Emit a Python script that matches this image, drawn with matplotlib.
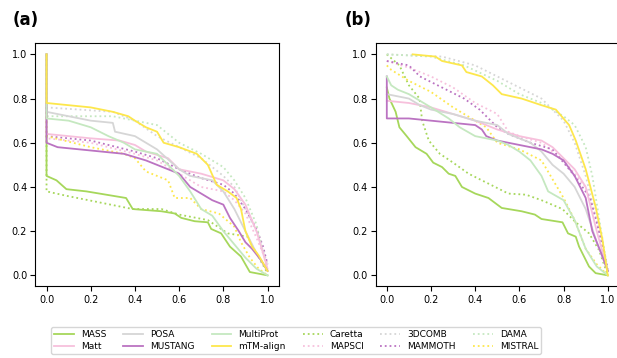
import matplotlib
matplotlib.use("Agg")
import matplotlib.pyplot as plt
from matplotlib.lines import Line2D

# ---------------- data (x = fraction, y = score) ----------------
methods = ["MASS", "Matt", "POSA", "MUSTANG", "MultiProt", "mTM-align",
           "Caretta", "MAPSCl", "3DCOMB", "MAMMOTH", "DAMA", "MlSTRAL"]
colors = ["#a6d75b", "#f7c0dc", "#d6d6d6", "#bb73c2", "#c5e8c0", "#fde74c",
          "#a6d75b", "#f7c0dc", "#d6d6d6", "#bb73c2", "#c5e8c0", "#fde74c"]
styles = ["-", "-", "-", "-", "-", "-", ":", ":", ":", ":", ":", ":"]

# panel (a)
a_mass = [(0, 1.0), (0, 0.45), (0.045, 0.43), (0.09, 0.39), (0.18, 0.38), (0.27, 0.365),
          (0.36, 0.35), (0.39, 0.30), (0.52, 0.29), (0.58, 0.28), (0.61, 0.26), (0.67, 0.245),
          (0.73, 0.24), (0.745, 0.21), (0.79, 0.19), (0.83, 0.13), (0.88, 0.085),
          (0.92, 0.015), (1.0, 0.0)]
a_matt = [(0, 1.0), (0, 0.64), (0.2, 0.62), (0.33, 0.61), (0.4, 0.59), (0.45, 0.56),
          (0.55, 0.53), (0.6, 0.48), (0.7, 0.46), (0.8, 0.43), (0.85, 0.39), (0.9, 0.32),
          (0.95, 0.2), (0.98, 0.1), (1.0, 0.03)]
a_posa = [(0, 1.0), (0, 0.74), (0.1, 0.72), (0.2, 0.70), (0.3, 0.69), (0.31, 0.65),
          (0.4, 0.63), (0.45, 0.60), (0.5, 0.57), (0.6, 0.48), (0.65, 0.45), (0.75, 0.43),
          (0.8, 0.38), (0.85, 0.30), (0.9, 0.20), (0.95, 0.10), (1.0, 0.02)]
a_mustang = [(0, 1.0), (0, 0.60), (0.05, 0.58), (0.15, 0.57), (0.25, 0.56), (0.35, 0.55),
             (0.45, 0.52), (0.55, 0.48), (0.6, 0.46), (0.65, 0.40), (0.7, 0.37), (0.75, 0.34),
             (0.8, 0.32), (0.83, 0.26), (0.87, 0.20), (0.9, 0.15), (0.93, 0.12),
             (0.97, 0.07), (1.0, 0.02)]
a_multiprot = [(0, 1.0), (0, 0.71), (0.1, 0.70), (0.2, 0.67), (0.28, 0.63), (0.35, 0.60),
               (0.4, 0.57), (0.5, 0.55), (0.55, 0.50), (0.6, 0.45), (0.65, 0.38), (0.7, 0.30),
               (0.75, 0.27), (0.8, 0.20), (0.85, 0.14), (0.9, 0.08), (0.95, 0.03), (1.0, 0.0)]
a_mtm = [(0, 1.0), (0, 0.78), (0.2, 0.76), (0.3, 0.74), (0.37, 0.72), (0.4, 0.70),
         (0.45, 0.67), (0.5, 0.65), (0.53, 0.60), (0.6, 0.58), (0.68, 0.55), (0.73, 0.50),
         (0.77, 0.41), (0.82, 0.38), (0.86, 0.35), (0.88, 0.30), (0.9, 0.20), (0.93, 0.13),
         (0.96, 0.09), (1.0, 0.02)]
a_caretta = [(0, 1.0), (0, 0.38), (0.09, 0.36), (0.24, 0.33), (0.39, 0.30), (0.52, 0.30),
             (0.6, 0.275), (0.73, 0.25), (0.82, 0.19), (0.91, 0.175), (0.95, 0.10), (1.0, 0.01)]
a_mapscl = [(0, 1.0), (0, 0.62), (0.2, 0.60), (0.4, 0.55), (0.5, 0.52), (0.6, 0.46),
            (0.7, 0.40), (0.8, 0.38), (0.85, 0.34), (0.9, 0.28), (0.95, 0.17), (1.0, 0.05)]
a_3dcomb = [(0, 1.0), (0, 0.76), (0.3, 0.74), (0.4, 0.70), (0.5, 0.63), (0.6, 0.58),
            (0.7, 0.53), (0.8, 0.45), (0.85, 0.40), (0.9, 0.30), (0.95, 0.20), (1.0, 0.05)]
a_mammoth = [(0, 1.0), (0, 0.63), (0.2, 0.61), (0.4, 0.56), (0.5, 0.53), (0.6, 0.48),
             (0.7, 0.44), (0.8, 0.41), (0.85, 0.37), (0.9, 0.30), (0.95, 0.21), (0.98, 0.13),
             (1.0, 0.05)]
a_dama = [(0, 1.0), (0, 0.72), (0.3, 0.72), (0.4, 0.70), (0.5, 0.68), (0.6, 0.60),
          (0.7, 0.55), (0.8, 0.49), (0.85, 0.43), (0.9, 0.35), (0.95, 0.23), (1.0, 0.02)]
a_mistral = [(0, 1.0), (0, 0.63), (0.2, 0.58), (0.35, 0.55), (0.4, 0.53), (0.45, 0.47),
             (0.55, 0.43), (0.58, 0.35), (0.65, 0.35), (0.7, 0.30), (0.78, 0.28),
             (0.85, 0.22), (0.88, 0.15), (0.92, 0.08), (0.96, 0.03), (1.0, 0.0)]

# panel (b)
b_mass = [(0, 0.85), (0.012, 0.80), (0.04, 0.74), (0.057, 0.67), (0.09, 0.63), (0.13, 0.58),
          (0.18, 0.55), (0.21, 0.51), (0.25, 0.49), (0.28, 0.46), (0.31, 0.45), (0.34, 0.40),
          (0.40, 0.37), (0.46, 0.35), (0.52, 0.305), (0.61, 0.29), (0.67, 0.275),
          (0.70, 0.255), (0.795, 0.24), (0.82, 0.19), (0.855, 0.175), (0.87, 0.13),
          (0.915, 0.04), (0.945, 0.01), (1.0, 0.0)]
b_matt = [(0, 0.79), (0.1, 0.78), (0.2, 0.76), (0.3, 0.73), (0.4, 0.70), (0.5, 0.66),
          (0.6, 0.63), (0.7, 0.61), (0.75, 0.58), (0.8, 0.53), (0.85, 0.48), (0.9, 0.40),
          (0.95, 0.20), (1.0, 0.02)]
b_posa = [(0, 0.82), (0.05, 0.81), (0.1, 0.80), (0.15, 0.77), (0.2, 0.75), (0.3, 0.73),
          (0.4, 0.70), (0.5, 0.68), (0.55, 0.64), (0.65, 0.60), (0.7, 0.56), (0.75, 0.50),
          (0.8, 0.46), (0.85, 0.40), (0.9, 0.30), (0.95, 0.15), (1.0, 0.02)]
b_mustang = [(0, 0.90), (0, 0.71), (0.1, 0.71), (0.2, 0.70), (0.3, 0.69), (0.4, 0.68),
             (0.43, 0.66), (0.45, 0.63), (0.5, 0.61), (0.6, 0.59), (0.7, 0.57), (0.75, 0.55),
             (0.8, 0.52), (0.85, 0.45), (0.9, 0.35), (0.93, 0.20), (0.97, 0.10), (1.0, 0.02)]
b_multiprot = [(0, 0.90), (0.02, 0.86), (0.05, 0.84), (0.1, 0.82), (0.15, 0.79), (0.2, 0.76),
               (0.28, 0.71), (0.33, 0.67), (0.4, 0.63), (0.5, 0.61), (0.55, 0.59), (0.6, 0.56),
               (0.65, 0.52), (0.7, 0.45), (0.73, 0.38), (0.8, 0.34), (0.85, 0.25),
               (0.9, 0.12), (0.95, 0.04), (1.0, 0.0)]
b_mtm = [(0.117, 1.0), (0.22, 0.99), (0.25, 0.97), (0.34, 0.95), (0.36, 0.92), (0.43, 0.90),
         (0.48, 0.86), (0.52, 0.82), (0.61, 0.80), (0.70, 0.77), (0.765, 0.75), (0.825, 0.68),
         (0.855, 0.61), (0.90, 0.48), (0.945, 0.31), (0.976, 0.16), (1.0, 0.0)]
b_caretta = [(0, 1.0), (0.057, 0.95), (0.10, 0.86), (0.148, 0.80), (0.16, 0.70), (0.19, 0.61),
             (0.24, 0.55), (0.30, 0.51), (0.37, 0.46), (0.43, 0.43), (0.49, 0.40), (0.55, 0.37),
             (0.63, 0.365), (0.70, 0.34), (0.795, 0.30), (0.855, 0.24), (0.915, 0.19),
             (0.96, 0.115), (1.0, 0.0)]
b_mapscl = [(0, 0.97), (0.1, 0.94), (0.2, 0.90), (0.3, 0.85), (0.4, 0.78), (0.5, 0.73),
            (0.55, 0.65), (0.6, 0.63), (0.7, 0.60), (0.8, 0.52), (0.9, 0.40), (0.95, 0.25),
            (1.0, 0.02)]
b_3dcomb = [(0, 1.0), (0.25, 0.99), (0.4, 0.95), (0.5, 0.90), (0.6, 0.85), (0.7, 0.80),
            (0.8, 0.70), (0.85, 0.60), (0.9, 0.45), (0.95, 0.25), (1.0, 0.02)]
b_mammoth = [(0, 0.97), (0.1, 0.95), (0.15, 0.90), (0.25, 0.85), (0.35, 0.80), (0.42, 0.75),
             (0.5, 0.67), (0.55, 0.64), (0.65, 0.60), (0.75, 0.57), (0.85, 0.45),
             (0.92, 0.35), (0.96, 0.20), (1.0, 0.03)]
b_dama = [(0, 1.0), (0.2, 0.99), (0.35, 0.95), (0.5, 0.88), (0.6, 0.82), (0.7, 0.78),
          (0.8, 0.72), (0.85, 0.68), (0.9, 0.58), (0.93, 0.45), (0.97, 0.20), (1.0, 0.02)]
b_mistral = [(0, 0.95), (0.02, 0.93), (0.1, 0.88), (0.2, 0.83), (0.3, 0.76), (0.4, 0.70),
             (0.45, 0.67), (0.5, 0.60), (0.6, 0.57), (0.7, 0.52), (0.8, 0.35), (0.85, 0.25),
             (0.9, 0.12), (0.95, 0.05), (1.0, 0.0)]

panel_a = [a_mass, a_matt, a_posa, a_mustang, a_multiprot, a_mtm,
           a_caretta, a_mapscl, a_3dcomb, a_mammoth, a_dama, a_mistral]
panel_b = [b_mass, b_matt, b_posa, b_mustang, b_multiprot, b_mtm,
           b_caretta, b_mapscl, b_3dcomb, b_mammoth, b_dama, b_mistral]
ticks = [0.0, 0.2, 0.4, 0.6, 0.8, 1.0]
tick_labels = ["0.0", "0.2", "0.4", "0.6", "0.8", "1.0"]

# ---------------- figure ----------------
fig = plt.figure(figsize=(6.17, 3.58), dpi=100)
ax_a = fig.add_axes([0.0575, 0.2, 0.394, 0.679])
ax_b = fig.add_axes([0.609, 0.2, 0.394, 0.679])

for ax, curves in ((ax_a, panel_a), (ax_b, panel_b)):
    order = list(range(6, 12)) + list(range(0, 6))
    for i in order:
        xs = [p[0] for p in curves[i]]
        ys = [p[1] for p in curves[i]]
        ax.plot(xs, ys, color=colors[i], linestyle=styles[i], lw=1.3)
    ax.set_xlim(-0.05, 1.05)
    ax.set_ylim(-0.05, 1.05)
    ax.set_xticks(ticks)
    ax.set_xticklabels(tick_labels)
    ax.set_yticks(ticks)
    ax.set_yticklabels(tick_labels)
    ax.tick_params(labelsize=7, length=3.5, width=0.8, pad=2.5)
    for s in ax.spines.values():
        s.set_linewidth(0.8)

fig.text(0.021, 0.944, "(a)", fontsize=12, fontweight="bold", ha="left", va="center")
fig.text(0.559, 0.944, "(b)", fontsize=12, fontweight="bold", ha="left", va="center")

handles = [Line2D([], [], color=colors[i], linestyle=styles[i], lw=1.3) for i in range(12)]
fig.legend(handles, methods, ncol=6, loc="upper center", bbox_to_anchor=(0.48, 0.098),
           fontsize=6.5, frameon=True, handlelength=2.2, columnspacing=1.85,
           borderpad=0.3, labelspacing=0.35, edgecolor="#cccccc", fancybox=True)

fig.savefig("out.png", dpi=100)
